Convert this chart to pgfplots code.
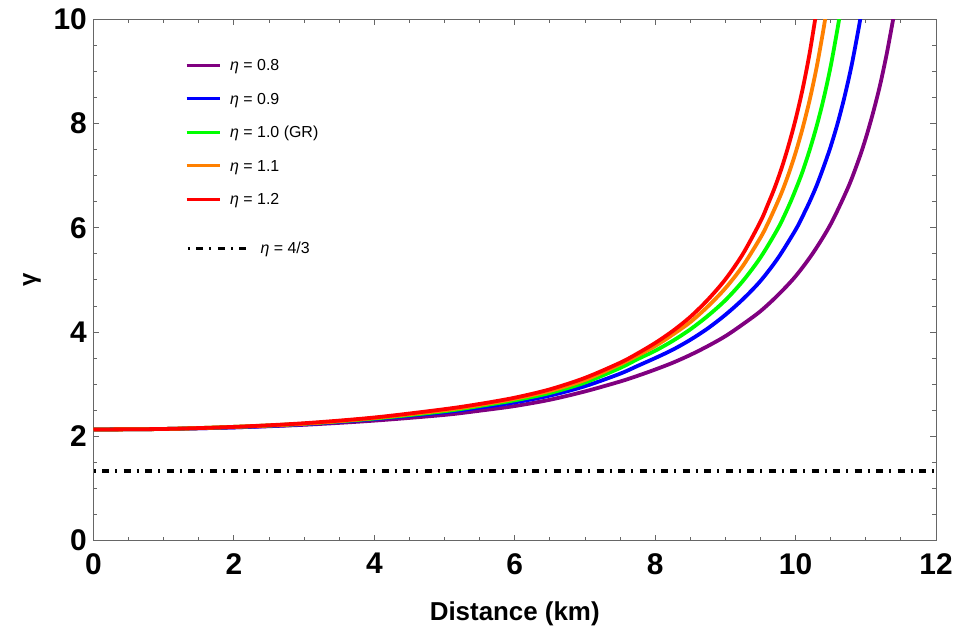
\documentclass[border=0pt]{standalone}
\usepackage{fontspec}
\setmainfont{Liberation Sans}
\usepackage{pgfplots}
\pgfplotsset{compat=1.18}
\definecolor{cpurple}{rgb}{0.5,0,0.5}
\definecolor{cblue}{rgb}{0,0,1}
\definecolor{cgreen}{rgb}{0,1,0}
\definecolor{corange}{rgb}{1,0.5,0}
\definecolor{cred}{rgb}{1,0,0}
\definecolor{framegray}{rgb}{0.4,0.4,0.4}
\begin{document}
\begin{tikzpicture}
\pgfplotsset{
 base/.style={
  scale only axis, width=842.5bp, height=521.2bp, at={(0,0)}, anchor=south west,
  xmin=0, xmax=12, ymin=0, ymax=10,
 },
}
\begin{axis}[base,
 xtick={0,2,...,12}, ytick={0,2,...,10}, minor tick num=3,
 major tick length=6bp, minor tick length=4bp,
 axis line style={framegray, line width=0.9bp},
 every tick/.style={framegray, line width=0.9bp},
 /pgf/number format/assume math mode=true,
 ticklabel style={font=\fontsize{30}{30}\selectfont\bfseries, inner sep=0pt},
 xticklabel style={yshift=-12.5bp},
 yticklabel style={xshift=-6.5bp},
 xlabel={Distance (km)}, ylabel={γ},
 xlabel style={at={(axis description cs:0.5,0)}, anchor=north, inner sep=0pt, yshift=-61.5bp, font=\fontsize{26}{26}\selectfont\bfseries},
 ylabel style={at={(axis description cs:0,0.5)}, anchor=center, inner sep=0pt, yshift=61.5bp, font=\fontsize{24}{24}\selectfont\bfseries},
 legend style={draw=none, fill=none, at={(0.1086,0.9244)}, anchor=north west, inner sep=0pt,
   nodes={inner sep=0pt, text height=12bp, text depth=4bp}, row sep=17.5bp,
   font=\fontsize{16}{16}\selectfont,
   /tikz/every odd column/.append style={column sep=9bp}},
 legend cell align=left,
 legend image code/.code={\draw[#1, line width=3bp] (0bp,1.5bp) -- (33bp,1.5bp);},
]
\addplot[cpurple, line width=3.8bp, smooth] coordinates {(0,2.13)(1,2.14)(2,2.17)(3,2.22)(4,2.30)(5,2.41)(5.5,2.49)(6,2.58)(6.5,2.70)(7,2.86)(7.5,3.05)(7.75,3.16)(8,3.28)(8.25,3.41)(8.5,3.56)(8.75,3.73)(9,3.92)(9.25,4.15)(9.5,4.40)(9.75,4.71)(10,5.07)(10.25,5.52)(10.5,6.07)(10.75,6.78)(10.9,7.31)(11,7.72)(11.1,8.19)(11.2,8.72)(11.3,9.35)(11.4,10.08)};
\addlegendentry{{\itshape η} = 0.8}
\addplot[cblue, line width=3.8bp, smooth] coordinates {(0,2.13)(1,2.14)(2,2.17)(3,2.23)(4,2.33)(5,2.46)(5.5,2.55)(6,2.65)(6.5,2.78)(7,2.96)(7.5,3.20)(7.75,3.35)(8,3.50)(8.25,3.66)(8.5,3.85)(8.75,4.07)(9,4.33)(9.25,4.63)(9.5,4.98)(9.75,5.42)(10,5.96)(10.1,6.22)(10.2,6.50)(10.3,6.81)(10.4,7.17)(10.5,7.56)(10.6,8.01)(10.7,8.53)(10.8,9.13)(10.9,9.84)(10.95,10.24)};
\addlegendentry{{\itshape η} = 0.9}
\addplot[cgreen, line width=3.8bp, smooth] coordinates {(0,2.13)(1,2.14)(2,2.18)(3,2.24)(4,2.34)(5,2.48)(5.5,2.58)(6,2.69)(6.5,2.83)(7,3.03)(7.5,3.31)(7.75,3.48)(8,3.64)(8.25,3.83)(8.5,4.05)(8.75,4.31)(9,4.61)(9.25,4.98)(9.5,5.43)(9.75,5.99)(9.9,6.41)(10,6.73)(10.1,7.08)(10.2,7.49)(10.3,7.95)(10.4,8.48)(10.5,9.10)(10.6,9.84)(10.65,10.26)};
\addlegendentry{{\itshape η} = 1.0 (GR)}
\addplot[corange, line width=3.8bp, smooth] coordinates {(0,2.13)(1,2.14)(2,2.18)(3,2.24)(4,2.35)(5,2.50)(5.5,2.60)(6,2.72)(6.5,2.87)(7,3.08)(7.5,3.38)(7.75,3.55)(8,3.73)(8.25,3.95)(8.5,4.19)(8.75,4.49)(9,4.84)(9.25,5.27)(9.5,5.81)(9.6,6.07)(9.7,6.36)(9.8,6.67)(9.9,7.03)(10,7.44)(10.1,7.91)(10.2,8.45)(10.3,9.08)(10.4,9.83)(10.45,10.26)};
\addlegendentry{{\itshape η} = 1.1}
\addplot[cred, line width=3.8bp, smooth] coordinates {(0,2.13)(1,2.14)(2,2.18)(3,2.25)(4,2.36)(5,2.52)(5.5,2.62)(6,2.74)(6.5,2.90)(7,3.12)(7.5,3.41)(7.75,3.59)(8,3.79)(8.25,4.02)(8.5,4.29)(8.75,4.62)(9,5.01)(9.25,5.50)(9.5,6.12)(9.6,6.43)(9.7,6.76)(9.8,7.14)(9.9,7.58)(10,8.08)(10.1,8.66)(10.2,9.35)(10.3,10.18)};
\addlegendentry{{\itshape η} = 1.2}
\end{axis}
\begin{axis}[base, hide axis,
 legend style={draw=none, fill=none, at={(0.1098,0.5733)}, anchor=north west, inner sep=0pt,
   nodes={inner sep=0pt, text height=12bp, text depth=4bp},
   font=\fontsize{16}{16}\selectfont,
   /tikz/every odd column/.append style={column sep=13bp}},
 legend cell align=left,
 legend image code/.code={\draw[#1, line width=3.3bp] (0bp,1.5bp) -- (58bp,1.5bp);},
]
\addplot[black, line width=3.3bp, dash pattern=on 2bp off 6.5bp on 7bp off 6bp] coordinates {(0,1.3333)(12,1.3333)};
\addlegendentry{{\itshape η} = 4/3}
\end{axis}
\pgfresetboundingbox
\useasboundingbox (-93.5bp,-92.5bp) rectangle (860.5bp,540.5bp);
\end{tikzpicture}
\end{document}
